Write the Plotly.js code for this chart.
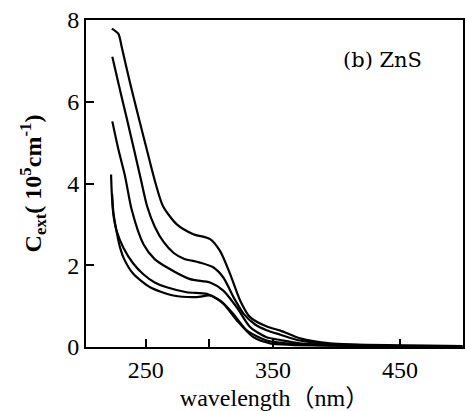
<!DOCTYPE html>
<html>
<head>
<meta charset="utf-8">
<script src="https://cdn.plot.ly/plotly-3.0.1.min.js"></script>
<style>html,body{margin:0;padding:0;background:#fff;}#chart{width:465px;height:411px;}</style>
</head>
<body>
<div id="chart"></div>
<script>
// wavelength (nm) and C_ext (10^5 cm^-1), one pair of arrays per curve
const wl1 = [223.3, 228.5, 231.1, 237.7, 244.2, 250.8, 257.3, 263.5, 274.4, 287.4, 300.6, 308.4, 316.3, 324.2, 332, 345.2, 356, 371.4, 395, 450, 499];
const c1  = [7.79, 7.66, 7.34, 6.45, 5.64, 4.83, 4.05, 3.45, 3.00, 2.76, 2.64, 2.35, 1.79, 1.14, 0.73, 0.50, 0.40, 0.21, 0.09, 0.04, 0.02];

const wl2 = [223.7, 228.5, 235, 241, 246, 251, 257, 264, 272, 280, 292, 303, 311, 319, 327, 336, 345, 356, 371, 395, 450, 499];
const c2  = [7.10, 6.45, 5.60, 4.80, 4.12, 3.45, 2.95, 2.57, 2.30, 2.16, 2.07, 1.95, 1.70, 1.22, 0.81, 0.55, 0.41, 0.30, 0.16, 0.07, 0.03, 0.02];

const wl3 = [223.7, 228.5, 233.7, 239, 248.1, 257, 266.5, 284.8, 300.6, 311, 321.6, 332, 345, 356, 371, 400, 450, 499];
const c3  = [5.52, 4.83, 4.18, 3.35, 2.52, 2.15, 1.95, 1.66, 1.58, 1.38, 0.97, 0.49, 0.24, 0.17, 0.09, 0.04, 0.02, 0.01];

const wl4 = [222.7, 223.3, 224.5, 227, 232.4, 240, 248.1, 257, 266.5, 282.2, 298, 308.4, 318.9, 329.4, 345.2, 370, 400, 450, 499];
const c4  = [4.22, 3.75, 3.25, 2.85, 2.43, 2.05, 1.78, 1.58, 1.46, 1.34, 1.30, 1.14, 0.81, 0.41, 0.16, 0.07, 0.04, 0.02, 0.01];

const wl5 = [223.5, 224.5, 226, 229.8, 233, 240.2, 253.4, 271.7, 290.1, 300.6, 311, 321.6, 334.6, 347.8, 400, 499];
const c5  = [3.74, 3.30, 3.00, 2.43, 2.15, 1.79, 1.46, 1.26, 1.22, 1.26, 1.06, 0.65, 0.24, 0.09, 0.03, 0.01];

const xTickVals = [250, 300, 350, 450];
const xTickText = ['250', ' ', '350', '450'];
const yTickVals = [0, 2, 4, 6, 8];
const yTickText = ['0', '2', '4', '6', '8'];
const panelLabel = '(b) ZnS';

const series = [[wl1, c1], [wl2, c2], [wl3, c3], [wl4, c4], [wl5, c5]];
const traces = series.map(([x, y]) => ({
  x: x, y: y, type: 'scatter', mode: 'lines',
  line: {color: '#000', width: 2.2, shape: 'spline', smoothing: 0.7},
  showlegend: false, hoverinfo: 'skip'
}));

const serif = 'Liberation Serif, "Times New Roman", "Noto Sans CJK SC", serif';

const layout = {
  width: 465, height: 411,
  margin: {l: 86, r: 2, t: 20, b: 64},
  paper_bgcolor: '#fff', plot_bgcolor: '#fff',
  showlegend: false,
  xaxis: {
    range: [203, 499.5],
    tickmode: 'array', tickvals: xTickVals, ticktext: xTickText,
    ticks: 'inside', ticklen: 8, tickwidth: 2, tickcolor: '#000',
    showline: true, linecolor: '#000', linewidth: 2, mirror: true,
    showgrid: false, zeroline: false,
    tickfont: {family: serif, size: 24, color: '#000'},
    title: {text: 'wavelength（nm）', font: {family: serif, size: 24, color: '#000'}, standoff: 8}
  },
  yaxis: {
    range: [0, 8],
    tickmode: 'array', tickvals: yTickVals, ticktext: yTickText,
    ticks: 'inside', ticklen: 8, tickwidth: 2, tickcolor: '#000',
    showline: true, linecolor: '#000', linewidth: 2, mirror: true,
    showgrid: false, zeroline: false,
    tickfont: {family: serif, size: 24, color: '#000'},
    title: {text: '<b>C<sub>ext</sub>( 10<sup>5</sup>cm<sup>-1</sup>)</b>', font: {family: serif, size: 24, color: '#000'}, standoff: 19}
  },
  annotations: [{
    x: 436, y: 7.02, xref: 'x', yref: 'y',
    text: panelLabel, showarrow: false,
    xanchor: 'center', yanchor: 'middle',
    font: {family: 'DejaVu Serif, serif', size: 21, color: '#000'}
  }]
};

Plotly.newPlot('chart', traces, layout, {displayModeBar: false, staticPlot: true});
</script>
</body>
</html>
